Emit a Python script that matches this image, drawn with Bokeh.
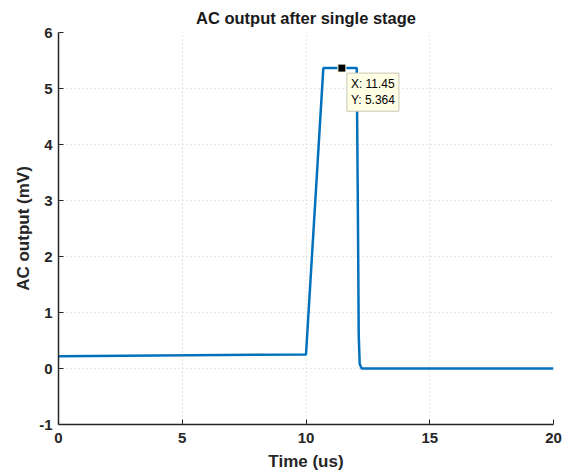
from bokeh.plotting import figure
from bokeh.models import Label, Range1d, FixedTicker, PrintfTickFormatter
from bokeh.embed import file_html
from bokeh.resources import INLINE

time_us = [0.0, 10.0, 10.7, 12.05, 12.1, 12.13, 12.17, 12.25, 20.0]
ac_mv = [0.22, 0.25, 5.364, 5.364, 2.6, 0.6, 0.08, 0.0, 0.0]
x_ticks = [0, 5, 10, 15, 20]
y_ticks = [-1, 0, 1, 2, 3, 4, 5, 6]
tip_x = 11.45
tip_y = 5.364

FONT = "Liberation Sans"

p = figure(width=567, height=476, output_backend="svg", toolbar_location=None,
           x_range=Range1d(0, 20), y_range=Range1d(-1, 6),
           min_border_left=58, min_border_right=14, min_border_top=32, min_border_bottom=52,
           title="AC output after single stage")
p.outline_line_color = None
p.background_fill_color = "white"
p.border_fill_color = "white"

p.title.align = "center"
p.title.text_font = FONT
p.title.text_font_size = "16.5px"
p.title.text_font_style = "bold"
p.title.text_color = "#1a1a1a"
p.title.offset = 0
p.title.standoff = 11

for ax, ticks in ((p.xaxis[0], x_ticks), (p.yaxis[0], y_ticks)):
    ax.ticker = FixedTicker(ticks=ticks)
    ax.formatter = PrintfTickFormatter(format="%d")
    ax.major_label_text_font = FONT
    ax.major_label_text_font_size = "15px"
    ax.major_label_text_font_style = "bold"
    ax.major_label_text_color = "#262626"
    ax.axis_label_text_font = FONT
    ax.axis_label_text_font_size = "17px"
    ax.axis_label_text_font_style = "bold"
    ax.axis_label_text_color = "#262626"
    ax.axis_line_color = "#262626"
    ax.axis_line_width = 1.5
    ax.major_tick_line_color = "#262626"
    ax.major_tick_in = 5
    ax.major_tick_out = 0
    ax.minor_tick_line_color = None

p.xaxis.major_label_standoff = 8
p.yaxis.major_label_standoff = 6
p.xaxis.axis_label = "Time (us)"
p.yaxis.axis_label = "AC output (mV)"
p.xaxis.axis_label_standoff = 6
p.yaxis.axis_label_standoff = 3

p.xgrid.ticker = FixedTicker(ticks=x_ticks)
p.ygrid.ticker = FixedTicker(ticks=y_ticks)
for g in (p.xgrid[0], p.ygrid[0]):
    g.grid_line_color = "#cfcfcf"
    g.grid_line_dash = "1 3"
    g.grid_line_width = 1

p.line(time_us, ac_mv, line_color="#0072BD", line_width=2.5)

p.scatter([tip_x], [tip_y], marker="square", size=8, fill_color="black", line_color="#ffffe0", line_width=1)

tip = Label(x=tip_x, y=tip_y, x_offset=5, y_offset=-5,
            text="X: " + str(tip_x) + "\nY: " + str(tip_y),
            text_font=FONT, text_font_size="12px", text_color="black",
            text_align="left", text_baseline="top", text_line_height=1.15,
            background_fill_color="#ffffe6", background_fill_alpha=1,
            border_line_color="#c8c8b4", border_line_width=1, padding=4)
p.add_layout(tip)

open("out.html", "w").write(file_html(p, INLINE))
